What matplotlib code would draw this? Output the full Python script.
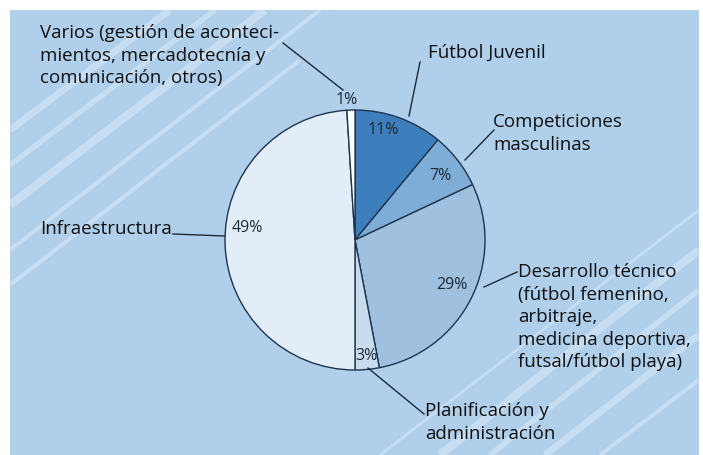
import matplotlib
matplotlib.use("Agg")
import matplotlib.pyplot as plt
from matplotlib.patches import Rectangle

plt.rcParams['font.family'] = ['Open Sans', 'DejaVu Sans']

categories = ["Fútbol Juvenil", "Competiciones masculinas", "Desarrollo técnico",
              "Planificación y administración", "Infraestructura", "Varios"]
values = [11, 7, 29, 3, 49, 1]
pct_labels = ["11%", "7%", "29%", "3%", "49%", "1%"]
colors = ["#3d7fbd", "#7eaed8", "#9fc0df", "#c9dcee", "#e2edf7", "#ffffff"]

W, H = 703, 455
fig = plt.figure(figsize=(7.03, 4.55), dpi=100)
ax = fig.add_axes([0, 0, 1, 1])
ax.set_xlim(0, W)
ax.set_ylim(0, H)
ax.set_aspect('equal')
ax.axis('off')

def Y(y):
    return H - y

bg = Rectangle((10, 0), 689, H - 10, facecolor="#afcfeb", edgecolor="none", zorder=0)
ax.add_patch(bg)

# decorative stripes
stripes = [
    ((10, 130), (170, 10), 5), ((10, 165), (215, 10), 4), ((10, 205), (265, 10), 6),
    ((10, 250), (320, 10), 3), ((10, 285), (300, 60), 3),
    ((440, 455), (699, 250), 6), ((490, 455), (699, 290), 4), ((545, 455), (699, 335), 5),
    ((600, 455), (699, 380), 3), ((380, 455), (699, 210), 2),
]
for (x0, y0), (x1, y1), lw in stripes:
    ln, = ax.plot([x0, x1], [Y(y0), Y(y1)], color="white", alpha=0.3, lw=lw,
                  solid_capstyle='butt', zorder=1)
    ln.set_clip_path(bg)

cx, cy, r = 355, 240, 130
wedges, _ = ax.pie(values, colors=colors, startangle=90, counterclock=False,
                   center=(cx, Y(cy)), radius=r,
                   wedgeprops=dict(edgecolor="#1e3550", linewidth=1.0))
for w in wedges:
    w.set_zorder(2)
ax.set_xlim(0, W)
ax.set_ylim(0, H)
ax.axis('off')

pct_pos = [(383, 130), (440, 176), (452, 285), (366, 356), (247, 228), (347, 100)]
for t, (x, y) in zip(pct_labels, pct_pos):
    ax.text(x, Y(y), t, ha='center', va='center', fontsize=11.5, color="#1e2a36", zorder=3)

text_color = "#111111"
fs = 13.5
ls = 1.33
ax.text(40, Y(24), "Varios (gestión de aconteci-\nmientos, mercadotecnía y\ncomunicación, otros)",
        ha='left', va='top', fontsize=fs, color=text_color, linespacing=ls, zorder=3)
ax.text(428, Y(53), "Fútbol Juvenil", ha='left', va='center', fontsize=fs, color=text_color, zorder=3)
ax.text(493, Y(113), "Competiciones\nmasculinas", ha='left', va='top', fontsize=fs,
        color=text_color, linespacing=ls, zorder=3)
ax.text(40, Y(229), "Infraestructura", ha='left', va='center', fontsize=fs, color=text_color, zorder=3)
ax.text(518, Y(263), "Desarrollo técnico\n(fútbol femenino,\narbitraje,\nmedicina deportiva,\nfutsal/fútbol playa)",
        ha='left', va='top', fontsize=fs, color=text_color, linespacing=ls, zorder=3)
ax.text(425, Y(402), "Planificación y\nadministración", ha='left', va='top', fontsize=fs,
        color=text_color, linespacing=ls, zorder=3)

leaders = [
    ((283, 43), (343, 90)),
    ((420, 62), (409, 116)),
    ((494, 130), (465, 160)),
    ((173, 234), (225, 236)),
    ((517, 272), (484, 287)),
    ((424, 414), (368, 368)),
]
for (x0, y0), (x1, y1) in leaders:
    ax.plot([x0, x1], [Y(y0), Y(y1)], color="#1e2a36", lw=1.0, zorder=3)

fig.savefig("out.png", dpi=100, facecolor="white")
